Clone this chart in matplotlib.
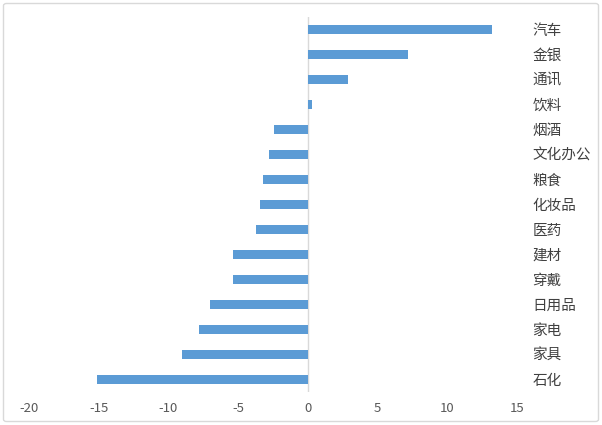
import matplotlib
matplotlib.use('Agg')
from matplotlib import pyplot as plt
from matplotlib.patches import FancyBboxPatch

plt.rcParams['font.family'] = ['Noto Sans CJK SC', 'DejaVu Sans']

# categories top to bottom
categories = ['汽车', '金银', '通讯', '饮料', '烟酒', '文化办公', '粮食', '化妆品',
              '医药', '建材', '穿戴', '日用品', '家电', '家具', '石化']
values = [13.2, 7.2, 2.85, 0.27, -2.4, -2.8, -3.25, -3.4,
          -3.75, -5.35, -5.4, -7.0, -7.8, -9.0, -15.15]
xticks = [-20, -15, -10, -5, 0, 5, 10, 15]

fig = plt.figure(figsize=(6.02, 4.25), dpi=100)
ax = fig.add_axes([29/602, 1-392/425, (517-29)/602, (392-17)/425])

pos = list(range(len(categories)))
ax.barh(pos, values, height=0.37, color='#5b9bd5')
ax.axvline(0, color='#d9d9d9', lw=1, zorder=0)

ax.set_xlim(-20, 15)
ax.set_ylim(len(categories)-0.5, -0.5)
ax.set_xticks(xticks)
ax.set_xticklabels([str(t) for t in xticks])
ax.set_yticks(pos)
ax.set_yticklabels(categories)
ax.yaxis.tick_right()

ax.tick_params(axis='x', length=0, pad=7, labelsize=9.5, labelcolor='#595959')
ax.tick_params(axis='y', length=0, pad=11, labelsize=10.5, labelcolor='#404040')
for s in ax.spines.values():
    s.set_visible(False)

# outer frame of the chart
frame = FancyBboxPatch((3.5/602, 3.5/425), 595/602, 418/425,
                       boxstyle='round,pad=0,rounding_size=0.005',
                       transform=fig.transFigure, fill=False,
                       edgecolor='#d9d9d9', lw=1)
fig.patches.append(frame)

fig.savefig('out.png', dpi=100)
